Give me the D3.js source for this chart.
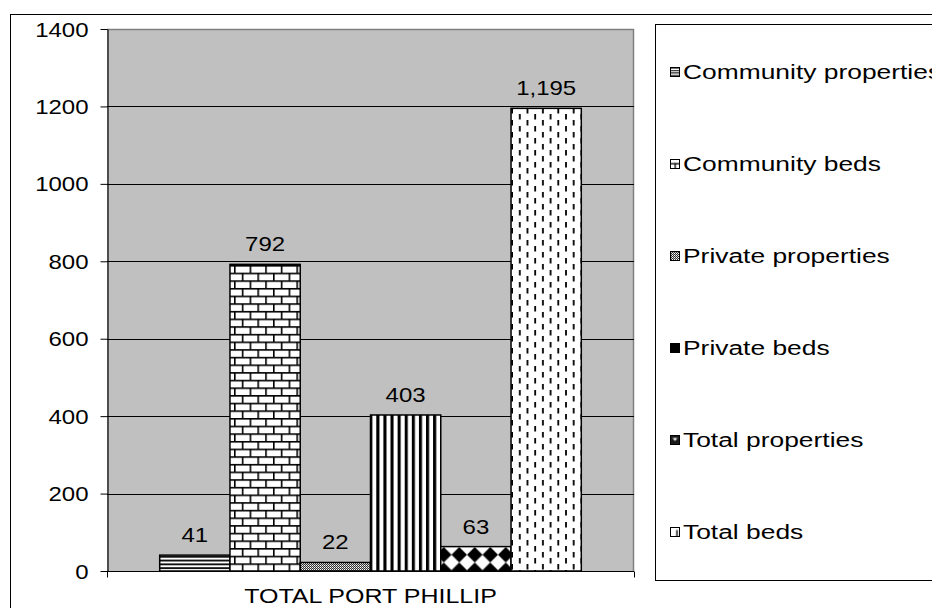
<!DOCTYPE html>
<html>
<head>
<meta charset="utf-8">
<script src="https://cdn.jsdelivr.net/npm/d3@7"></script>
<style>
  html, body { margin: 0; padding: 0; background: #fff; }
  svg { display: block; }
  text { font-family: "Liberation Sans", Arial, sans-serif; fill: #000; }
</style>
</head>
<body>
<svg id="chart" width="932" height="608"></svg>
<script>
// ---- data ----
const categories = ["TOTAL PORT PHILLIP"];
const seriesNames = ["Community properties", "Community beds", "Private properties", "Private beds", "Total properties", "Total beds"];
const seriesValues = [41, 792, 22, 403, 63, 1195];
const yTicks = [0, 200, 400, 600, 800, 1000, 1200, 1400];
const patternIds = ["pHLines", "pBrick", "pDither", "pVStripes", "pDiamond", "pDashes"];

// ---- layout ----
const W = 932, H = 608;
const plot = { left: 107, right: 634, top: 29, bottom: 571 };
const SX = 1.2;   // horizontal stretch of text
const SXL = 1.32; // legend text stretch
const FS = 20;

const svg = d3.select("#chart");
const defs = svg.append("defs");

function pat(id, w, h, bg) {
  const p = defs.append("pattern").attr("id", id).attr("patternUnits", "userSpaceOnUse")
    .attr("width", w).attr("height", h);
  p.append("rect").attr("width", w).attr("height", h).attr("fill", bg || "#fff");
  return p;
}
// ---- bar patterns ----
{ const p = pat("pHLines", 8, 3.8); p.attr("y", plot.bottom);
  p.append("rect").attr("y", 0).attr("width", 8).attr("height", 1.9).attr("fill", "#111"); }
{ const w = 15.6, h = 15.3; const p = pat("pBrick", w, h);
  p.attr("y", plot.bottom);
  p.append("rect").attr("x", 0).attr("y", 0).attr("width", w).attr("height", 1.6).attr("fill", "#000");
  p.append("rect").attr("x", 0).attr("y", h / 2).attr("width", w).attr("height", 1.6).attr("fill", "#000");
  p.append("rect").attr("x", 0).attr("y", 0).attr("width", 1.6).attr("height", h / 2).attr("fill", "#000");
  p.append("rect").attr("x", w / 2).attr("y", h / 2).attr("width", 1.6).attr("height", h / 2).attr("fill", "#000");
}
{ const p = pat("pDither", 2, 2);
  p.append("rect").attr("width", 1).attr("height", 1).attr("fill", "#333");
  p.append("rect").attr("x", 1).attr("y", 1).attr("width", 1).attr("height", 1).attr("fill", "#333");
  p.append("rect").attr("x", 1).attr("y", 0).attr("width", 1).attr("height", 1).attr("fill", "#bbb");
}
{ const p = pat("pVStripes", 7.1, 8);
  p.append("rect").attr("x", 0).attr("width", 3.1).attr("height", 8).attr("fill", "#000"); }
{ const s = 15.5; const p = pat("pDiamond", s, s); p.attr("y", plot.bottom - s * 0.55).attr("x", 2);
  p.append("polygon").attr("points", `${s/2},0 ${s},${s/2} ${s/2},${s} 0,${s/2}`).attr("fill", "#000"); }
{ const w = 15.4, h = 12; const p = pat("pDashes", w, h);
  p.append("rect").attr("x", 3).attr("y", 0).attr("width", 1.8).attr("height", 5.5).attr("fill", "#000");
  p.append("rect").attr("x", 3 + w / 2).attr("y", h / 2).attr("width", 1.8).attr("height", 5.5).attr("fill", "#000");
}

// ---- legend swatch patterns (Excel draws these at small scale) ----
const legendPatternIds = ["lHLines", "lBrick", "pDither", "lBlack", "lDiamond", "lDashes"];
{ const p = pat("lHLines", 4, 2.4); p.attr("y", -4.5);
  p.append("rect").attr("width", 4).attr("height", 1.2).attr("fill", "#222"); }
{ const p = pat("lBrick", 9, 9); p.attr("x", 0.5).attr("y", -4.5);
  p.append("rect").attr("x", 0).attr("y", 3.6).attr("width", 9).attr("height", 1.3).attr("fill", "#000");
  p.append("rect").attr("x", 4).attr("y", 3.6).attr("width", 1.3).attr("height", 5.4).attr("fill", "#000"); }
pat("lBlack", 4, 4, "#000");
{ const p = pat("lDiamond", 9, 9, "#1a1a1a"); p.attr("x", 0.5).attr("y", -4.5);
  p.append("polygon").attr("points", "2,2.5 4.5,5.5 7,2.5").attr("fill", "#fff"); }
{ const p = pat("lDashes", 9, 9); p.attr("x", 0.5).attr("y", -4.5);
  p.append("rect").attr("x", 5.8).attr("y", 2.5).attr("width", 1.4).attr("height", 6.5).attr("fill", "#000"); }

// outer chart border
svg.append("rect").attr("x", 10.5).attr("y", 14.5).attr("width", W).attr("height", H)
  .attr("fill", "#fff").attr("stroke", "#000").attr("stroke-width", 1);

// scales
const x0 = d3.scaleBand().domain(categories).range([plot.left, plot.right]);
const x1 = d3.scaleBand().domain(seriesNames).range([0, x0.bandwidth()]).paddingInner(0).paddingOuter(0.75);
const y = d3.scaleLinear().domain([0, 1400]).range([plot.bottom, plot.top]);

// plot background
svg.append("rect").attr("x", plot.left).attr("y", plot.top)
  .attr("width", plot.right - plot.left).attr("height", plot.bottom - plot.top)
  .attr("fill", "#c0c0c0");
svg.append("path")
  .attr("d", `M${plot.left},${y(1400) + 0.5}H${plot.right - 0.5}V${plot.bottom}`)
  .attr("fill", "none").attr("stroke", "#808080").attr("stroke-width", 1.5);

// gridlines
svg.append("g").selectAll("line").data(yTicks.filter(t => t > 0 && t < 1400)).join("line")
  .attr("x1", plot.left).attr("x2", plot.right)
  .attr("y1", d => Math.round(y(d)) + 0.5).attr("y2", d => Math.round(y(d)) + 0.5)
  .attr("stroke", "#000").attr("stroke-width", 1);

// bars
const g = svg.append("g");
categories.forEach(cat => {
  const data = seriesNames.map((s, i) => ({ s, v: seriesValues[i], p: patternIds[i] }));
  g.selectAll(null).data(data).join("rect")
    .attr("x", d => x0(cat) + x1(d.s))
    .attr("y", d => y(d.v))
    .attr("width", x1.bandwidth())
    .attr("height", d => y(0) - y(d.v))
    .attr("fill", d => `url(#${d.p})`)
    .attr("stroke", "#000").attr("stroke-width", 1.5);
  g.selectAll(null).data(data).join("text")
    .attr("transform", d => `translate(${x0(cat) + x1(d.s) + x1.bandwidth() / 2},${y(d.v) - 13}) scale(${SX},1)`)
    .attr("text-anchor", "middle").attr("font-size", FS)
    .text(d => d3.format(",")(d.v));
});

// y axis
const yAxis = svg.append("g").attr("transform", `translate(${plot.left + 0.5},0)`)
  .call(d3.axisLeft(y).tickValues(yTicks).tickFormat(d3.format("d")).tickSize(7).tickSizeOuter(0));
yAxis.select(".domain").attr("stroke", "#000").attr("stroke-width", 1.2);
yAxis.selectAll(".tick line").attr("stroke", "#000");
yAxis.selectAll(".tick text")
  .attr("x", null).attr("dy", null)
  .attr("font-size", FS).attr("font-family", "Liberation Sans, Arial, sans-serif").attr("fill", "#000")
  .attr("text-anchor", "end")
  .attr("transform", `translate(-19,7) scale(${SX},1)`);

// x axis
const xAxis = svg.append("g").attr("transform", `translate(0,${plot.bottom + 0.5})`);
xAxis.append("line").attr("x1", x0.range()[0]).attr("x2", x0.range()[1])
  .attr("stroke", "#000").attr("stroke-width", 1.2);
xAxis.selectAll("line.tk").data(x0.range()).join("line").attr("class", "tk")
  .attr("x1", d => d + 0.5).attr("x2", d => d + 0.5).attr("y1", 0).attr("y2", 6)
  .attr("stroke", "#000");
svg.append("g").selectAll("text").data(categories).join("text")
  .attr("transform", d => `translate(${x0(d) + x0.bandwidth() / 2},${plot.bottom + 32}) scale(1.25,1)`)
  .attr("text-anchor", "middle").attr("font-size", FS)
  .text(d => d);

// legend
svg.append("rect").attr("x", 655.5).attr("y", 24.5).attr("width", 400).attr("height", 556)
  .attr("fill", "#fff").attr("stroke", "#000").attr("stroke-width", 1);
const ly = d3.scalePoint().domain(seriesNames).range([72, 532]);
const lg = svg.append("g").selectAll("g").data(seriesNames).join("g")
  .attr("transform", d => `translate(670,${ly(d)})`);
lg.append("rect").attr("x", 0.5).attr("y", -4.5).attr("width", 9).attr("height", 9)
  .attr("fill", (d, i) => `url(#${legendPatternIds[i]})`).attr("stroke", "#000").attr("stroke-width", 1);
lg.append("text")
  .attr("transform", `translate(13,7) scale(${SXL},1)`)
  .attr("font-size", FS).text(d => d);
</script>
</body>
</html>
